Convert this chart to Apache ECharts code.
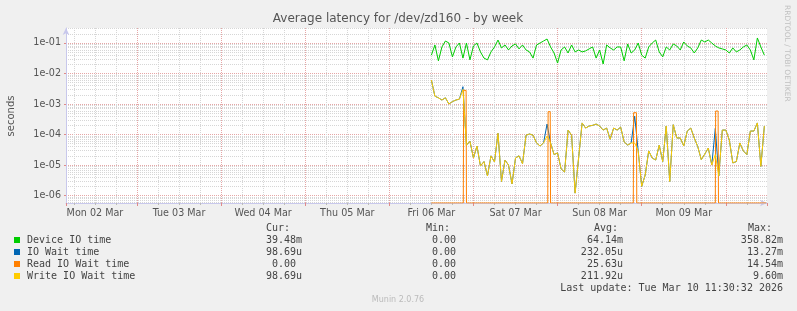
<!DOCTYPE html>
<html>
<head>
<meta charset="utf-8">
<script src="https://cdn.jsdelivr.net/npm/echarts@6/dist/echarts.min.js"></script>
<style>
html, body { margin: 0; padding: 0; background: #f0f0f0; }
#chart { width: 797px; height: 311px; }
</style>
</head>
<body>
<div id="chart"></div>
<script>
// time is counted in hours from Mon 02 Mar 00:00
var startHour = 108;      // first sample, Fri 06 Mar 12:00
var dayLabels = ['Mon 02 Mar', 'Tue 03 Mar', 'Wed 04 Mar', 'Thu 05 Mar', 'Fri 06 Mar', 'Sat 07 Mar', 'Sun 08 Mar', 'Mon 09 Mar'];

// Device IO time (hourly samples)
var deviceIo = [0.040, 0.086, 0.026, 0.074, 0.116, 0.1, 0.035, 0.074, 0.1, 0.032,
    0.1, 0.028, 0.08, 0.1, 0.051, 0.032, 0.028, 0.051, 0.074, 0.125,
    0.069, 0.086, 0.059, 0.08, 0.093, 0.064, 0.086, 0.059, 0.051, 0.032,
    0.086, 0.1, 0.116, 0.135, 0.074, 0.047, 0.022, 0.059, 0.074, 0.047,
    0.086, 0.051, 0.059, 0.051, 0.055, 0.064, 0.074, 0.032, 0.059, 0.0205,
    0.086, 0.069, 0.059, 0.074, 0.074, 0.026, 0.093, 0.047, 0.059, 0.1,
    0.040, 0.032, 0.074, 0.1, 0.125, 0.051, 0.035, 0.074, 0.059, 0.093,
    0.08, 0.059, 0.108, 0.08, 0.069, 0.047, 0.069, 0.125, 0.108, 0.125,
    0.1, 0.08, 0.069, 0.064, 0.059, 0.047, 0.069, 0.051, 0.059, 0.074,
    0.086, 0.059, 0.028, 0.146, 0.074, 0.040];

// Write IO Wait time (hourly samples)
var writeWait = [6.1e-3, 1.8e-3, 1.6e-3, 1.35e-3, 1.6e-3, 1.0e-3, 1.2e-3, 1.35e-3, 1.45e-3, 3.0e-3,
    4.5e-5, 6.0e-5, 1.7e-5, 4.2e-5, 9.3e-6, 1.3e-5, 4.4e-6, 2.0e-5, 1.26e-5, 1.1e-4,
    2.9e-6, 1.46e-5, 1.0e-5, 2.4e-6, 1.7e-5, 2.0e-5, 1.1e-5, 9.5e-5, 1.04e-4, 9.5e-5,
    5.3e-5, 4.2e-5, 5.3e-5, 8.9e-5, 5.3e-5, 2.2e-5, 2.5e-5, 7.5e-6, 5.9e-6, 1.4e-4,
    9.5e-5, 1.2e-6, 1.7e-5, 2.4e-4, 1.63e-4, 1.9e-4, 2.0e-4, 2.2e-4, 1.9e-4, 1.4e-4,
    1.63e-4, 7.0e-5, 1.63e-4, 1.4e-4, 1.75e-4, 5.7e-5, 4.5e-5, 5.3e-5, 5.3e-5, 2.9e-5,
    2.0e-6, 4.7e-6, 2.9e-5, 1.7e-5, 1.46e-5, 4.5e-5, 1.3e-5, 1.9e-4, 2.9e-6, 2.1e-4,
    7.7e-5, 7.7e-5, 4.2e-5, 1.3e-4, 1.63e-4, 7.7e-5, 4.0e-5, 1.5e-5, 2.3e-5, 3.6e-5,
    1.0e-5, 2.2e-5, 4.4e-6, 1.4e-4, 1.4e-4, 6.6e-5, 1.17e-5, 1.3e-5, 5.3e-5, 2.9e-5,
    2.2e-5, 1.3e-4, 1.3e-4, 2.4e-4, 9.0e-6, 1.9e-4];

// IO Wait time (hourly samples)
var ioWait = [6.1e-3, 1.8e-3, 1.6e-3, 1.35e-3, 1.6e-3, 1.0e-3, 1.2e-3, 1.35e-3, 1.45e-3, 3.7e-3,
    4.5e-5, 6.0e-5, 1.7e-5, 4.2e-5, 9.3e-6, 1.3e-5, 4.4e-6, 2.0e-5, 1.26e-5, 1.1e-4,
    2.9e-6, 1.46e-5, 1.0e-5, 2.4e-6, 1.7e-5, 2.0e-5, 1.1e-5, 9.5e-5, 1.04e-4, 9.5e-5,
    5.3e-5, 4.2e-5, 5.3e-5, 2.2e-4, 5.3e-5, 2.2e-5, 2.5e-5, 7.5e-6, 5.9e-6, 1.4e-4,
    9.5e-5, 1.2e-6, 1.7e-5, 2.4e-4, 1.63e-4, 1.9e-4, 2.0e-4, 2.2e-4, 1.9e-4, 1.4e-4,
    1.63e-4, 7.0e-5, 1.63e-4, 1.4e-4, 1.75e-4, 5.7e-5, 4.5e-5, 5.3e-5, 4.0e-4, 2.9e-5,
    2.0e-6, 4.7e-6, 2.9e-5, 1.7e-5, 1.46e-5, 4.5e-5, 1.3e-5, 1.9e-4, 2.9e-6, 2.1e-4,
    7.7e-5, 7.7e-5, 4.2e-5, 1.3e-4, 1.63e-4, 7.7e-5, 4.0e-5, 1.5e-5, 2.3e-5, 3.6e-5,
    1.0e-5, 1.6e-4, 4.4e-6, 1.4e-4, 1.4e-4, 6.6e-5, 1.17e-5, 1.3e-5, 5.3e-5, 2.9e-5,
    2.2e-5, 1.3e-4, 1.3e-4, 2.4e-4, 9.0e-6, 1.9e-4];

// Read IO Wait time: zero except a few short spikes
var readHours = [108, 117.1, 117.2, 117.9, 118.0, 141.2, 141.3, 141.9, 142.0, 165.6, 165.7, 166.5, 166.6, 189.0, 189.1, 189.8, 189.9, 203.5];
var readWait = [0, 0, 2.8e-3, 2.8e-3, 0, 0, 5.6e-4, 5.6e-4, 0, 0, 5.2e-4, 5.2e-4, 0, 0, 5.9e-4, 5.9e-4, 0, 0];

// legend table
var legendNames = ['Device IO time', 'IO Wait time', 'Read IO Wait time', 'Write IO Wait time'];
var legendColors = ['#00cc00', '#0066b3', '#ff8000', '#ffcc00'];
var curValues = ['39.48m', '98.69u', '0.00 ', '98.69u'];
var minValues = ['0.00', '0.00', '0.00', '0.00'];
var avgValues = ['64.14m', '232.05u', '25.63u', '211.92u'];
var maxValues = ['358.82m', '13.27m', '14.54m', '9.60m'];

var xMin = 3.75, xMax = 203.75;
var yMin = 5.7e-7, yMax = 0.31;

function hourly(vals) {
    return vals.map(function (v, i) { return [startHour + i, v > 0 ? v : yMin]; });
}
function paired(hours, vals) {
    return vals.map(function (v, i) { return [hours[i], v > 0 ? v : yMin]; });
}

var mono = '10px "DejaVu Sans Mono"';
var graphics = [
    { type: 'text', x: 398, y: 19, style: { text: 'Average latency for /dev/zd160 - by week', font: '12px "DejaVu Sans"', fill: '#555', align: 'center', verticalAlign: 'middle' } },
    { type: 'text', x: 11, y: 116, rotation: Math.PI / 2, style: { text: 'seconds', font: '10px "DejaVu Sans"', fill: '#555', align: 'center', verticalAlign: 'middle' } },
    { type: 'text', x: 787, y: 5, rotation: -Math.PI / 2, style: { text: 'RRDTOOL / TOBI OETIKER', font: '7.5px "DejaVu Sans"', fill: '#c0c0c0', align: 'left', verticalAlign: 'middle' } },
    { type: 'text', x: 266, y: 228, style: { text: 'Cur:', font: mono, fill: '#444', verticalAlign: 'middle' } },
    { type: 'text', x: 426, y: 228, style: { text: 'Min:', font: mono, fill: '#444', verticalAlign: 'middle' } },
    { type: 'text', x: 594, y: 228, style: { text: 'Avg:', font: mono, fill: '#444', verticalAlign: 'middle' } },
    { type: 'text', x: 748, y: 228, style: { text: 'Max:', font: mono, fill: '#444', verticalAlign: 'middle' } },
    { type: 'text', x: 783, y: 288, style: { text: 'Last update: Tue Mar 10 11:30:32 2026', font: mono, fill: '#444', align: 'right', verticalAlign: 'middle' } },
    { type: 'text', x: 398, y: 300, style: { text: 'Munin 2.0.76', font: '8px "DejaVu Sans"', fill: '#bbb', align: 'center', verticalAlign: 'middle' } }
];
legendNames.forEach(function (name, i) {
    var y = 240 + i * 12;
    graphics.push({ type: 'rect', shape: { x: 14, y: y - 3, width: 6, height: 6 }, style: { fill: legendColors[i] } });
    graphics.push({ type: 'text', x: 27, y: y, style: { text: name, font: mono, fill: '#444', verticalAlign: 'middle' } });
    graphics.push({ type: 'text', x: 302, y: y, style: { text: curValues[i], font: mono, fill: '#444', align: 'right', verticalAlign: 'middle' } });
    graphics.push({ type: 'text', x: 456, y: y, style: { text: minValues[i], font: mono, fill: '#444', align: 'right', verticalAlign: 'middle' } });
    graphics.push({ type: 'text', x: 623, y: y, style: { text: avgValues[i], font: mono, fill: '#444', align: 'right', verticalAlign: 'middle' } });
    graphics.push({ type: 'text', x: 783, y: y, style: { text: maxValues[i], font: mono, fill: '#444', align: 'right', verticalAlign: 'middle' } });
});

function lineSeries(name, data, color) {
    return {
        name: name, type: 'line', data: data, xAxisIndex: 0, yAxisIndex: 0,
        symbol: 'none', animation: false, clip: true,
        lineStyle: { width: 1, color: color }
    };
}

var myChart = echarts.init(document.getElementById('chart'), null, { renderer: 'canvas' });
var option = {
    backgroundColor: '#f0f0f0',
    animation: false,
    grid: { left: 66, right: 30, top: 28, bottom: 108, show: true, backgroundColor: '#ffffff', borderWidth: 0 },
    xAxis: [
        {   // 6 hour grid
            type: 'value', position: 'bottom', min: xMin, max: xMax, minInterval: 6, maxInterval: 6,
            axisLine: { show: true, onZero: false, lineStyle: { color: '#c8c8ec' }, symbol: ['none', 'arrow'], symbolSize: [5, 7] },
            axisTick: { show: true, length: 2, lineStyle: { color: '#bbbbbb' } },
            axisLabel: { show: false },
            splitLine: { show: true, showMinLine: false, showMaxLine: false, lineStyle: { type: 'dotted', color: '#d6d6d6' } }
        },
        {   // day boundaries
            type: 'value', position: 'bottom', min: xMin, max: xMax, minInterval: 24, maxInterval: 24,
            axisLine: { show: false, onZero: false },
            axisTick: { show: true, length: 3, lineStyle: { color: '#e08a8a' } },
            axisLabel: { show: false },
            splitLine: { show: true, showMinLine: false, showMaxLine: false, lineStyle: { type: 'dotted', color: '#e6a6a6' } }
        },
        {   // day labels at noon
            type: 'value', position: 'bottom', min: xMin - 12, max: xMax - 12, minInterval: 24, maxInterval: 24,
            axisLine: { show: false, onZero: false }, axisTick: { show: false }, splitLine: { show: false },
            axisLabel: {
                show: true, margin: 5, color: '#555', fontFamily: 'DejaVu Sans', fontSize: 9.6,
                showMinLabel: false, showMaxLabel: false,
                formatter: function (v) {
                    var k = Math.round(v / 24);
                    return (Math.abs(v - k * 24) < 1e-6 && dayLabels[k]) ? dayLabels[k] : '';
                }
            }
        }
    ],
    yAxis: {
        type: 'log', logBase: 10, min: yMin, max: yMax,
        axisLine: { show: true, onZero: false, lineStyle: { color: '#c8c8ec' }, symbol: ['none', 'arrow'], symbolSize: [5, 7] },
        axisTick: { show: true, length: 2, lineStyle: { color: '#e08a8a' } },
        axisLabel: {
            margin: 5, color: '#555', fontFamily: 'DejaVu Sans', fontSize: 9.6,
            showMinLabel: false, showMaxLabel: false,
            formatter: function (v) {
                var e = Math.round(Math.log10(v));
                if (Math.abs(Math.log10(v) - e) > 1e-6) return '';
                return '1e-' + (e > -10 ? '0' : '') + (-e);
            }
        },
        splitLine: { show: true, showMinLine: false, showMaxLine: false, lineStyle: { type: 'dotted', color: '#e6a6a6' } },
        minorTick: { show: false, splitNumber: 9 },
        minorSplitLine: { show: true, lineStyle: { type: 'dotted', color: '#d6d6d6' } }
    },
    graphic: graphics,
    series: [
        lineSeries('Device IO time', hourly(deviceIo), '#00cc00'),
        lineSeries('IO Wait time', hourly(ioWait), '#0066b3'),
        lineSeries('Read IO Wait time', paired(readHours, readWait), '#ff8000'),
        lineSeries('Write IO Wait time', hourly(writeWait), '#ffcc00')
    ]
};
myChart.setOption(option);
</script>
</body>
</html>
